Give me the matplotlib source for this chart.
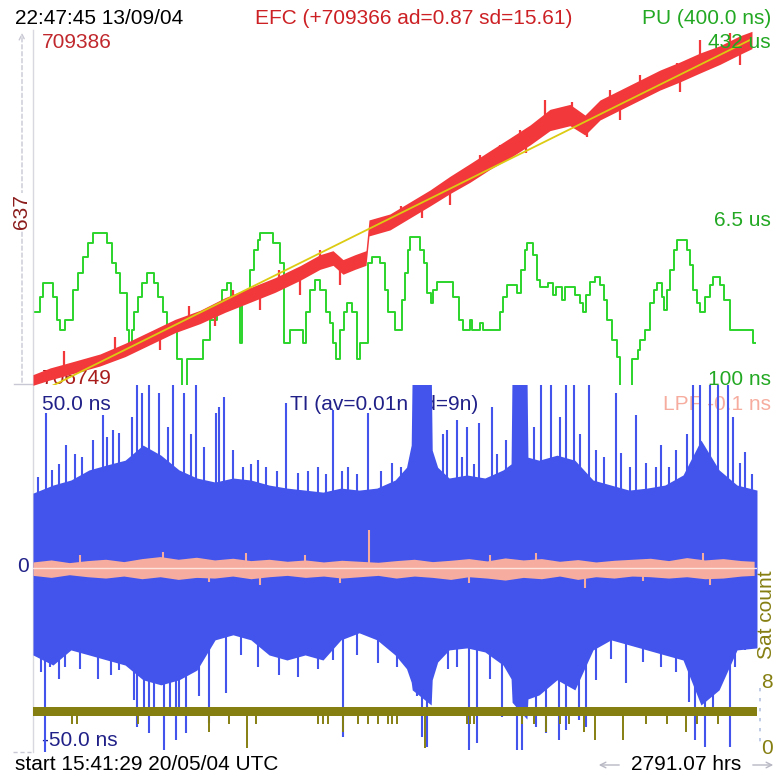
import matplotlib
matplotlib.use("Agg")
import matplotlib.pyplot as plt
from matplotlib.lines import Line2D
from matplotlib.patches import FancyArrowPatch

plt.rcParams["font.family"] = ["Liberation Sans", "DejaVu Sans"]

# ---- data (hours since start) ----
span_hours = 2791.07

# EFC: smoothed trace, its noise half-width, and isolated excursions
efc_hours = [0, 65.5, 161.9, 258.3, 354.7, 451, 547.4, 643.8, 740.2, 836.6,
             932.9, 1029.3, 1106.4, 1156.5, 1195.1, 1241.3, 1283.7, 1295.3, 1376.2, 1453.3,
             1530.4, 1607.5, 1684.6, 1761.7, 1838.8, 1915.9, 1993, 2070.1, 2127.9, 2185.8,
             2262.9, 2340, 2417.1, 2494.2, 2571.3, 2648.4, 2725.5, 2771.7]
efc_value = [706772, 706817, 706869, 706922, 706997, 707087, 707177, 707245, 707335, 707410,
             707485, 707575, 707658, 707688, 707621, 707658, 707688, 707914, 707959, 708049,
             708139, 708237, 708327, 708424, 708515, 708612, 708725, 708762, 708687, 708800,
             708875, 708950, 709025, 709086, 709153, 709213, 709288, 709326]
efc_spread = [40, 45, 45, 45, 50, 50, 50, 50, 55, 55,
              55, 55, 55, 55, 55, 55, 55, 60, 60, 60,
              60, 65, 70, 70, 75, 75, 80, 80, 75, 75,
              75, 75, 75, 75, 75, 70, 70, 65]
efc_spike_hours = [120, 316, 600, 771, 950, 1106, 1420, 1723, 1800, 1877, 1974, 2078, 2224,
                   2340, 2483, 2571, 2687,
                   200, 490, 700, 875, 1029, 1183, 1500, 1607, 1900, 2136, 2263, 2494, 2725]
efc_spike_value = [706990, 707095, 707330, 707448, 707600, 707748, 708080, 708462, 708540,
                   708650, 708875, 708860, 708950, 709063, 709153, 709326, 709379,
                   706850, 706997, 707180, 707297, 707410, 707485, 707990, 708086, 708480,
                   708597, 708725, 708935, 709138]
efc_fit_hours = [0, 2764]
efc_fit_value = [706656, 709326]

# PU (ns), stepped
pu_hours = [7.7, 27, 38.6, 77.1, 92.5, 104.1, 123.4, 154.2, 173.5, 192.8,
            212, 231.3, 285.3, 304.5, 320, 335.4, 362.4, 370.1, 381.6, 389.4,
            404.8, 420.2, 439.5, 466.5, 481.9, 501.2, 516.6, 555.1, 574.4, 593.7,
            655.4, 682.3, 709.3, 728.6, 747.9, 763.3, 778.7, 798, 805.7, 821.1,
            836.5, 851.9, 867.4, 875.1, 925.2, 952.2, 967.6, 990.7, 1040.9, 1052.4,
            1067.8, 1087.1, 1106.4, 1129.5, 1144.9, 1156.5, 1168.1, 1183.5, 1198.9, 1210.5,
            1229.7, 1249, 1260.6, 1291.4, 1306.8, 1337.7, 1357, 1368.5, 1395.5, 1422.5,
            1434.1, 1445.6, 1453.3, 1491.9, 1507.3, 1518.9, 1534.3, 1542, 1557.4, 1619.1,
            1642.2, 1657.7, 1684.6, 1692.3, 1723.2, 1734.8, 1800.3, 1811.9, 1827.3, 1865.8,
            1881.2, 1896.7, 1904.4, 1927.5, 1942.9, 1954.5, 1985.3, 2004.6, 2016.2, 2039.3,
            2050.9, 2089.4, 2108.7, 2120.3, 2131.8, 2147.2, 2166.5, 2185.8, 2201.2, 2212.8,
            2232, 2251.3, 2262.9, 2309.1, 2332.3, 2340, 2359.3, 2378.5, 2394, 2405.5,
            2424.8, 2432.5, 2444.1, 2455.6, 2471.1, 2482.6, 2521.2, 2532.8, 2544.3, 2559.7,
            2571.3, 2590.6, 2609.8, 2621.4, 2648.4, 2663.8, 2686.9, 2775.6, 2783.3]
pu_ns = [570, 830, 1160, 830, 470, 370, 470, 980, 1490, 2200,
         3110, 3970, 3110, 1900, 1490, 910, 370, 270, 370, 570,
         830, 1160, 1490, 1160, 830, 570, 370, 180, 90, 180,
         290, 470, 650, 980, 1160, 830, 710, 270, 710, 910,
         1600, 2630, 3340, 3970, 3110, 1900, 270, 370, 270, 570,
         980, 1250, 980, 570, 440, 270, 180, 370, 570, 710,
         570, 180, 270, 1900, 2200, 1900, 980, 570, 370, 770,
         1490, 2630, 3600, 2630, 1900, 910, 710, 980, 1190, 830,
         470, 370, 470, 370, 440, 370, 570, 830, 1110, 910,
         1600, 2630, 3110, 2320, 1250, 1060, 1160, 870, 1060, 770,
         1060, 870, 710, 570, 870, 1190, 1350, 1110, 770, 470,
         290, 190, 90, 180, 225, 290, 370, 710, 980, 1160,
         830, 600, 980, 1600, 2630, 3340, 2630, 1810, 980, 710,
         570, 830, 1110, 1350, 1110, 770, 370, 270, 270]

# TI (ns): envelope of the dense trace plus individual excursions
ti_hours = [0, 77, 146, 216, 285, 355, 424, 493, 563, 632,
            702, 771, 840, 910, 979, 1049, 1118, 1187, 1257, 1326,
            1396, 1440, 1458, 1462, 1535, 1539, 1560, 1604, 1673, 1742,
            1812, 1843, 1847, 1904, 1908, 1951, 2020, 2089, 2159, 2228,
            2298, 2367, 2436, 2506, 2575, 2645, 2714, 2791]
ti_upper = [22.3, 24.7, 26.2, 29.2, 30.7, 32.1, 36.6, 33.6, 29.2, 26.8,
            25.6, 26.8, 26.2, 24.7, 23.8, 23.2, 22.6, 23.8, 23.2, 23.8,
            26.2, 30.0, 36.6, 60, 60, 35.1, 30.0, 26.8, 27.7, 26.8,
            29.2, 31.0, 60, 60, 33.0, 32.1, 33.6, 32.1, 26.2, 24.7,
            23.2, 23.8, 24.7, 27.7, 38.1, 29.2, 24.7, 23.2]
ti_lower = [-25.9, -28.9, -24.4, -25.9, -27.4, -28.9, -33.3, -34.8, -33.3, -30.4,
            -21.4, -19.9, -21.4, -25.9, -27.4, -25.9, -27.4, -21.4, -19.3, -21.4,
            -25.9, -30.0, -34.0, -36.3, -40.8, -33.3, -28.0, -24.4, -23.8, -25.0,
            -28.9, -33.0, -40.0, -45.0, -39.0, -37.8, -33.3, -36.3, -24.4, -21.4,
            -22.9, -24.4, -25.9, -27.4, -40.8, -36.3, -24.4, -23.8]
ti_up_spike_hours = [20, 50, 73, 100, 127, 160, 189, 230, 270, 285, 310, 332, 382, 401, 420,
                     447, 486, 520, 540, 582, 610, 628, 660, 705, 717, 736, 771, 810, 840,
                     867, 900, 940, 975, 1022, 1060, 1099, 1130, 1157, 1190, 1214, 1250,
                     1291, 1340, 1384, 1420, 1580, 1596,
                     1635, 1655, 1673, 1700, 1719, 1769, 1790, 1825,
                     1930, 1958, 1997, 2030, 2055, 2086, 2110, 2143, 2170, 2200, 2247,
                     2267, 2300, 2325, 2363, 2400, 2421, 2450, 2479, 2520, 2545, 2571, 2610,
                     2641, 2680, 2700, 2726, 2745, 2770]
ti_up_spike_ns = [27, 46.1, 29.2, 31, 36.6, 34, 33, 38, 45.5, 39, 41, 40.2, 45, 60, 52.1,
                  60, 52.1, 42, 60, 52.1, 40, 60, 36, 46.1, 48, 50.9, 35.1, 30, 31,
                  32.1, 30, 29, 49.1, 28.3, 29, 30, 28, 47, 29, 30, 28,
                  46.1, 29, 31.2, 30, 40, 41.1,
                  44, 33, 42, 31, 43.2, 47.9, 34, 38,
                  42, 60, 60, 45, 60, 60, 40, 60, 35.1, 33, 52.1,
                  34.2, 30, 45.5, 31.2, 30, 36.6, 30, 35.1, 40, 60, 60, 60,
                  60, 60, 45, 31.2, 34.5, 28]
ti_dn_spike_hours = [30, 46, 66, 100, 123, 180, 250, 300, 332, 389, 401, 428, 447, 466, 505,
                     530, 551, 563, 590, 640, 678, 744, 800, 867, 950, 1022, 1100, 1157, 1195,
                     1250, 1330, 1403, 1480, 1500, 1519, 1600, 1635, 1681, 1712, 1760,
                     1808, 1866, 1885, 1939, 1978, 2028, 2055, 2105, 2132, 2170, 2230, 2286,
                     2350, 2421, 2480, 2530, 2552, 2591, 2620, 2660, 2687, 2706, 2745]
ti_dn_spike_ns = [-31, -60, -29.5, -33, -29.5, -30, -33, -32, -30.4, -39.3, -47.3, -41.4,
                  -49.1, -41.4, -54.2, -42, -51.2, -43.2, -49.1, -38, -46.1, -37.2, -26,
                  -29.5, -32, -32.4, -30, -27.4, -50.3, -26, -28.3, -29.5, -38, -50.3,
                  -53.3, -30, -29.5, -54.2, -52.1, -33, -44.3, -54.2, -54.2, -47.3,
                  -49.1, -51.2, -48.2, -45.2, -47.3, -33.3, -27, -34.2, -28, -29.5, -31,
                  -40, -51.2, -53.3, -42, -31, -53.3, -29.5, -24.4]

# LPF (ns)
lpf_hours = [0, 70, 140, 210, 280, 350, 420, 490, 560, 630, 700, 770, 840, 910, 980,
             1050, 1120, 1190, 1260, 1330, 1400, 1470, 1540, 1610, 1680, 1750, 1820,
             1890, 1960, 2030, 2100, 2170, 2240, 2310, 2380, 2450, 2520, 2590, 2660,
             2730, 2780]
lpf_upper = [1.8, 2.4, 1.6, 2.2, 2.6, 1.9, 2.8, 3.4, 2.6, 3.2, 2.4, 2.9, 2.2, 2.6, 2.0,
             2.4, 1.8, 2.3, 2.0, 1.7, 2.2, 2.6, 1.9, 2.3, 2.8, 2.1, 3.0, 2.4, 2.8, 2.0,
             2.5, 1.8, 2.3, 2.6, 2.9, 2.2, 3.1, 2.4, 2.8, 2.2, 2.0]
lpf_lower = [-2.2, -2.8, -2.0, -2.6, -3.0, -2.4, -3.2, -2.6, -3.4, -2.8, -3.0, -2.4,
             -3.2, -2.6, -2.2, -2.8, -2.4, -3.0, -2.6, -2.2, -3.0, -2.4, -2.8, -3.4,
             -2.6, -3.0, -3.6, -2.8, -3.2, -2.4, -3.4, -2.6, -3.0, -2.4, -2.6, -3.0,
             -2.6, -3.2, -3.0, -2.4, -2.2]
lpf_spike_hours = [180, 501, 680, 821, 875, 1050, 1183, 1295, 1681, 1760, 1939, 2128,
                   2350, 2583, 2610]
lpf_spike_ns = [3.8, 4.8, -4.2, 4.5, -5, 3.8, -4.5, 11.3, -4.5, 4.0, 4.5, -6, -4.0, 4.5, -5]

# Satellite count: usual range and drop-outs
sat_low, sat_high = 4, 5
sat_dip_hours = [150, 170, 405, 678, 756, 825, 860, 1099, 1118, 1137, 1195, 1253, 1291,
                 1330, 1369, 1384, 1403, 1511, 1673, 1685, 1700, 1885, 1931, 1978, 2032,
                 2066, 2124, 2167, 2274, 2363, 2444, 2517, 2560, 2641]
sat_dip_count = [3, 3, 3, 2, 3, 0, 3, 3, 3, 3, 2, 3, 3,
                 3, 3, 3, 3, 0, 3, 3, 3, 3, 3, 2, 3,
                 3, 2, 1, 1, 3, 3, 2, 3, 3]

# ---- colours ----
RED = "#f2383a"
YELLOW = "#dccb12"
GREEN = "#2bd42b"
GREEN_TXT = "#22a822"
BLUE = "#4254ec"
NAVY = "#202088"
PINK = "#f6ad9f"
OLIVE = "#857f12"

W, H = 779, 778
fig = plt.figure(figsize=(W / 100, H / 100), dpi=100)
fig.patch.set_facecolor("white")


def fp(px, py):
    return px / W, 1 - py / H


ax_top = fig.add_axes([33 / W, 1 - 385 / H, 724 / W, 355 / H])
ax_pu = fig.add_axes([33 / W, 1 - 385 / H, 724 / W, 355 / H])
ax_ti = fig.add_axes([33 / W, 1 - 752 / H, 724 / W, 367 / H])
ax_sat = fig.add_axes([33 / W, 1 - 752 / H, 724 / W, 367 / H])
ax_pu.set_zorder(1)
ax_top.set_zorder(2)
ax_ti.set_zorder(3)
ax_sat.set_zorder(4)
for ax in (ax_top, ax_pu, ax_ti, ax_sat):
    ax.set_axis_off()
    ax.set_xlim(0, span_hours)

ax_top.set_ylim(706734, 709401)
ax_pu.set_yscale("log")
ax_pu.set_ylim(95.2, 579000)
ax_ti.set_ylim(-54.8, 54.5)
ax_sat.set_ylim(-0.49, 44.7)

# top panel
ax_pu.step(pu_hours, pu_ns, where="post", color=GREEN, lw=1.4)
lo = [v - s for v, s in zip(efc_value, efc_spread)]
hi = [v + s for v, s in zip(efc_value, efc_spread)]
ax_top.fill_between(efc_hours, lo, hi, color=RED, lw=0, zorder=2)
nearest = [efc_value[min(range(len(efc_hours)), key=lambda i: abs(efc_hours[i] - h))]
           for h in efc_spike_hours]
ax_top.vlines(efc_spike_hours, nearest, efc_spike_value, color=RED, lw=1.6, zorder=2)
ax_top.plot(efc_fit_hours, efc_fit_value, color=YELLOW, lw=1.3, zorder=3)

# bottom panel
ax_ti.fill_between(ti_hours, ti_lower, ti_upper, color=BLUE, lw=0, zorder=2)
ax_ti.vlines(ti_up_spike_hours, 0, ti_up_spike_ns, color=BLUE, lw=1.5, zorder=2)
ax_ti.vlines(ti_dn_spike_hours, 0, ti_dn_spike_ns, color=BLUE, lw=1.5, zorder=2)
ax_ti.fill_between(lpf_hours, lpf_lower, lpf_upper, color=PINK, lw=0, zorder=3)
ax_ti.vlines(lpf_spike_hours, 0, lpf_spike_ns, color=PINK, lw=1.5, zorder=3)
ax_ti.plot([0, span_hours], [0, 0], color="#fde4dc", lw=1.0, zorder=3)

ax_sat.fill_between([0, span_hours], sat_low, sat_high + 0.1, color=OLIVE, lw=0)
ax_sat.vlines(sat_dip_hours, sat_dip_count, sat_low, color=OLIVE, lw=1.4)

# frame decorations
fig.add_artist(Line2D([33 / W, 33 / W], [1 - 30 / H, 1 - 752 / H], color="#d8d8e0", lw=1))
fig.add_artist(FancyArrowPatch(fp(22, 385), fp(22, 30), arrowstyle="->", mutation_scale=10,
                               color="#c8c8d4", lw=1, linestyle=(0, (3, 2)),
                               transform=fig.transFigure))
fig.add_artist(Line2D([13 / W, 33 / W], [1 - 752 / H, 1 - 752 / H], color="#c8c8d4",
                      lw=1, linestyle=(0, (3, 2))))
fig.add_artist(Line2D([14 / W, 33 / W], [1 - 384 / H, 1 - 384 / H], color="#c8c8d4", lw=1))
fig.add_artist(Line2D([760 / W, 760 / W], [1 - 688 / H, 1 - 745 / H], color="#b4c2e2",
                      lw=1.2, linestyle=(0, (2, 4))))
fig.add_artist(FancyArrowPatch(fp(622, 765), fp(596, 765), arrowstyle="->", mutation_scale=10,
                               color="#b8b8c4", lw=1, transform=fig.transFigure))
fig.add_artist(FancyArrowPatch(fp(750, 765), fp(776, 765), arrowstyle="->", mutation_scale=10,
                               color="#b8b8c4", lw=1, transform=fig.transFigure))

FS = 15
tf = fig.transFigure
# top labels
fig.text(*fp(15, 19), "22:47:45 13/09/04", fontsize=FS, color="black", va="center")
fig.text(*fp(255, 19), "EFC (+709366 ad=0.87 sd=15.61)", fontsize=FS, color="#cc2024",
         va="center")
fig.text(*fp(771, 19), "PU (400.0 ns)", fontsize=FS, color=GREEN_TXT, va="center", ha="right")
fig.text(*fp(42, 42), "709386", fontsize=FS, color="#c0282d", va="center")
fig.text(*fp(771, 43), "432 us", fontsize=FS, color=GREEN_TXT, va="center", ha="right",
         zorder=10)
fig.text(*fp(21, 212), "637", fontsize=FS, color="#8b1c1c", va="center", ha="center",
         rotation=90, bbox=dict(facecolor="white", edgecolor="none", pad=1))
fig.text(*fp(771, 220), "6.5 us", fontsize=FS, color=GREEN_TXT, va="center", ha="right")
fig.text(*fp(771, 380), "100 ns", fontsize=FS, color=GREEN_TXT, va="center", ha="right")
ax_top.text(*fp(42, 378), "706749", fontsize=FS, color="#a81c1c", va="center",
            transform=tf, zorder=0.5)

# bottom labels (under the TI trace)
ax_ti.text(*fp(42, 404), "50.0 ns", fontsize=FS, color=NAVY, va="center", transform=tf,
           zorder=0.5)
ax_ti.text(*fp(290, 404), "TI (av=0.01n sd=9n)", fontsize=FS, color=NAVY, va="center",
           transform=tf, zorder=0.5)
ax_ti.text(*fp(771, 404), "LPF -0.1 ns", fontsize=FS, color=PINK, va="center", ha="right",
           transform=tf, zorder=0.5)
fig.text(*fp(17, 567), "0", fontsize=FS, color=NAVY, va="center")
ax_ti.text(*fp(42, 740), "-50.0 ns", fontsize=FS, color=NAVY, va="center", transform=tf,
           zorder=0.5)
fig.text(*fp(15, 765), "start 15:41:29 20/05/04 UTC", fontsize=FS, color="black", va="center")
fig.text(*fp(741, 765), "2791.07 hrs", fontsize=FS, color="black", va="center", ha="right")
fig.text(*fp(767, 615), "Sat count", fontsize=FS, color=OLIVE, va="center", ha="center",
         rotation=90)
fig.text(*fp(767, 683), "8", fontsize=FS, color=OLIVE, va="center", ha="center")
fig.text(*fp(767, 748), "0", fontsize=FS, color=OLIVE, va="center", ha="center")

fig.savefig("out.png", dpi=100, facecolor="white")
